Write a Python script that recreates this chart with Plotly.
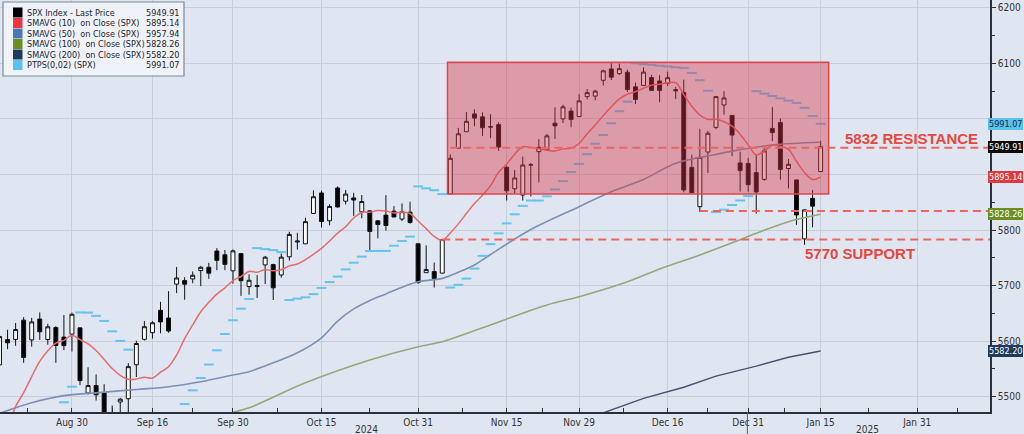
import numpy as np
import plotly.graph_objects as go

# ---------------- data ----------------
dates = ["2024-08-19","2024-08-20","2024-08-21","2024-08-22","2024-08-23","2024-08-26","2024-08-27","2024-08-28","2024-08-29","2024-08-30",
"2024-09-03","2024-09-04","2024-09-05","2024-09-06","2024-09-09","2024-09-10","2024-09-11","2024-09-12","2024-09-13","2024-09-16",
"2024-09-17","2024-09-18","2024-09-19","2024-09-20","2024-09-23","2024-09-24","2024-09-25","2024-09-26","2024-09-27","2024-09-30",
"2024-10-01","2024-10-02","2024-10-03","2024-10-04","2024-10-07","2024-10-08","2024-10-09","2024-10-10","2024-10-11","2024-10-14",
"2024-10-15","2024-10-16","2024-10-17","2024-10-18","2024-10-21","2024-10-22","2024-10-23","2024-10-24","2024-10-25","2024-10-28",
"2024-10-29","2024-10-30","2024-10-31","2024-11-01","2024-11-04","2024-11-05","2024-11-06","2024-11-07","2024-11-08","2024-11-11",
"2024-11-12","2024-11-13","2024-11-14","2024-11-15","2024-11-18","2024-11-19","2024-11-20","2024-11-21","2024-11-22","2024-11-25",
"2024-11-26","2024-11-27","2024-11-29","2024-12-02","2024-12-03","2024-12-04","2024-12-05","2024-12-06","2024-12-09","2024-12-10",
"2024-12-11","2024-12-12","2024-12-13","2024-12-16","2024-12-17","2024-12-18","2024-12-19","2024-12-20","2024-12-23","2024-12-24",
"2024-12-26","2024-12-27","2024-12-30","2024-12-31","2025-01-02","2025-01-03","2025-01-06","2025-01-07","2025-01-08","2025-01-10",
"2025-01-13","2025-01-14","2025-01-15"]

open_ = [5557.2, 5602.9, 5603.1, 5637.8, 5602.2, 5639.7, 5602.9, 5624.5, 5607.3, 5612.7,
5623.9, 5506.7, 5520.1, 5507.3, 5442.1, 5490.5, 5496.4, 5557.5, 5603.3, 5615.2,
5655.5, 5641.7, 5702.6, 5709.0, 5711.9, 5727.0, 5733.0, 5762.2, 5755.4, 5726.5,
5757.7, 5698.2, 5698.2, 5737.2, 5737.8, 5719.1, 5751.8, 5778.4, 5775.1, 5829.8,
5866.7, 5816.6, 5875.6, 5851.9, 5857.8, 5832.7, 5834.5, 5816.6, 5826.8, 5833.9,
5819.7, 5832.1, 5775.3, 5723.2, 5725.2, 5722.4, 5864.9, 5947.2, 5976.8, 6008.9,
6003.6, 5985.8, 5989.6, 5912.8, 5874.2, 5863.0, 5917.2, 5941.0, 5944.4, 5992.3,
6000.0, 6014.1, 6004.0, 6040.1, 6041.0, 6069.4, 6089.8, 6081.4, 6083.9, 6057.6,
6060.2, 6074.3, 6068.2, 6063.8, 6052.6, 6047.6, 5912.7, 5842.0, 5940.3, 5984.7,
6025.0, 6006.2, 5920.7, 5919.7, 5903.3, 5891.1, 5982.8, 5993.3, 5910.7, 5890.2,
5784.0, 5857.0, 5905.2]

high = [5608.3, 5620.5, 5632.7, 5643.2, 5641.8, 5651.6, 5631.2, 5627.0, 5647.0, 5651.4,
5623.9, 5553.0, 5540.1, 5522.5, 5484.2, 5497.9, 5560.4, 5600.7, 5636.3, 5636.0,
5670.8, 5690.0, 5733.6, 5715.1, 5725.4, 5735.3, 5741.0, 5767.4, 5764.0, 5765.1,
5757.7, 5720.3, 5718.8, 5753.3, 5739.4, 5757.6, 5796.8, 5795.0, 5822.1, 5871.4,
5870.9, 5846.4, 5878.5, 5872.2, 5866.9, 5863.0, 5834.9, 5817.8, 5862.8, 5842.9,
5847.7, 5850.9, 5775.3, 5772.3, 5741.4, 5783.4, 5936.1, 5983.8, 6012.5, 6017.3,
6011.8, 6008.2, 5993.9, 5915.8, 5908.1, 5932.0, 5920.7, 5963.4, 5972.9, 6020.8,
6025.4, 6020.2, 6044.2, 6053.6, 6052.2, 6088.4, 6100.0, 6099.5, 6088.5, 6065.4,
6092.6, 6079.2, 6078.6, 6085.2, 6057.7, 6070.7, 5935.5, 5982.1, 5978.3, 6040.1,
6049.8, 6006.2, 5940.8, 5929.7, 5935.1, 5949.3, 6021.0, 6000.7, 5927.9, 5890.2,
5837.3, 5871.9, 5960.6]

low = [5550.7, 5585.5, 5591.6, 5561.0, 5590.0, 5602.3, 5593.5, 5561.0, 5583.7, 5581.3,
5521.0, 5503.9, 5493.0, 5402.6, 5434.5, 5441.7, 5407.0, 5535.5, 5601.0, 5604.5,
5614.1, 5615.1, 5686.4, 5674.5, 5704.2, 5699.0, 5712.1, 5727.6, 5727.7, 5703.5,
5681.5, 5683.5, 5677.6, 5702.8, 5674.0, 5714.3, 5745.0, 5764.8, 5775.1, 5829.6,
5804.5, 5808.4, 5840.3, 5846.1, 5824.8, 5821.2, 5762.4, 5784.9, 5799.0, 5822.7,
5816.1, 5811.3, 5703.3, 5723.2, 5696.5, 5722.1, 5864.9, 5947.1, 5976.8, 5986.7,
5969.3, 5965.3, 5942.3, 5853.0, 5865.9, 5853.0, 5860.6, 5885.5, 5944.4, 5963.9,
5992.3, 5984.9, 6004.0, 6035.3, 6033.4, 6060.0, 6070.0, 6079.0, 6048.6, 6026.6,
6060.2, 6051.2, 6029.9, 6059.1, 6035.8, 5867.8, 5866.1, 5832.3, 5902.6, 5981.4,
6007.4, 5932.9, 5869.2, 5868.9, 5829.5, 5888.7, 5960.0, 5890.7, 5874.8, 5809.2,
5773.3, 5805.0, 5905.2]

close = [5608.25, 5597.12, 5620.85, 5570.64, 5634.61, 5616.84, 5625.80, 5592.18, 5591.96, 5648.40,
5528.93, 5520.07, 5503.41, 5408.42, 5471.05, 5495.52, 5554.13, 5595.76, 5626.02, 5633.09,
5634.58, 5618.26, 5713.64, 5702.55, 5718.57, 5732.93, 5722.26, 5745.37, 5738.17, 5762.48,
5708.75, 5709.54, 5699.94, 5751.07, 5695.94, 5751.13, 5792.04, 5780.05, 5815.03, 5859.85,
5815.26, 5842.47, 5841.47, 5864.67, 5853.98, 5851.20, 5797.42, 5809.86, 5808.12, 5823.52,
5832.92, 5813.67, 5705.45, 5728.80, 5712.69, 5782.76, 5929.04, 5973.10, 5995.54, 6001.35,
5983.99, 5985.38, 5949.17, 5870.62, 5893.62, 5916.98, 5917.11, 5948.71, 5969.34, 5987.37,
6021.63, 5998.74, 6032.38, 6047.15, 6049.88, 6086.49, 6075.11, 6090.27, 6052.85, 6034.91,
6084.19, 6051.25, 6051.09, 6074.08, 6050.61, 5872.16, 5867.08, 5930.85, 5974.07, 6040.04,
6037.59, 5970.84, 5906.94, 5881.63, 5868.55, 5942.47, 5975.38, 5909.03, 5918.25, 5827.04,
5836.22, 5842.91, 5949.91]

sma10 = [5404.3, 5440.0, 5482.1, 5507.3, 5536.3, 5563.5, 5582.7, 5596.4, 5601.3, 5610.7,
5602.7, 5595.0, 5583.3, 5567.1, 5550.7, 5538.6, 5531.4, 5531.8, 5535.2, 5533.6,
5544.2, 5554.0, 5575.0, 5604.5, 5629.2, 5653.0, 5669.8, 5684.7, 5695.9, 5708.9,
5716.3, 5725.4, 5724.1, 5728.9, 5726.6, 5728.5, 5735.4, 5738.9, 5746.6, 5756.3,
5767.0, 5780.3, 5794.4, 5805.8, 5821.6, 5831.6, 5832.1, 5835.1, 5834.4, 5830.8,
5832.6, 5829.7, 5816.1, 5802.5, 5788.4, 5781.5, 5794.7, 5811.0, 5829.7, 5847.5,
5862.6, 5879.8, 5904.2, 5918.4, 5936.5, 5949.9, 5948.7, 5946.2, 5943.6, 5942.2,
5946.0, 5947.3, 5955.7, 5973.3, 5988.9, 6005.9, 6021.7, 6035.8, 6044.2, 6048.9,
6055.2, 6060.4, 6062.3, 6065.0, 6065.1, 6043.7, 6022.8, 6006.9, 5999.0, 5999.5,
5994.9, 5986.8, 5972.4, 5953.2, 5935.0, 5942.0, 5952.8, 5950.7, 5945.1, 5923.8,
5903.6, 5890.8, 5895.1]

sma50_dates = ["2024-08-19","2024-08-23","2024-08-29","2024-09-05","2024-09-12","2024-09-18","2024-09-24","2024-09-30",
"2024-10-02","2024-10-07","2024-10-10","2024-10-15","2024-10-17","2024-10-21","2024-10-23","2024-10-25","2024-10-29",
"2024-10-31","2024-11-05","2024-11-07","2024-11-11","2024-11-13","2024-11-20","2024-11-29","2024-12-05","2024-12-11",
"2024-12-17","2024-12-24","2024-12-27","2025-01-06","2025-01-15"]
sma50 = [5470, 5489, 5502, 5507, 5513, 5518, 5527, 5539,
5545, 5561, 5579, 5606, 5636, 5658, 5673, 5685, 5697,
5707, 5713, 5724, 5737, 5756, 5801, 5842, 5869, 5891,
5920, 5936, 5942, 5953, 5957.94]

sma100_dates = ["2024-09-30","2024-10-02","2024-10-11","2024-10-23","2024-10-31","2024-11-05","2024-11-12","2024-11-22",
"2024-11-29","2024-12-09","2024-12-13","2024-12-20","2024-12-27","2025-01-02","2025-01-08","2025-01-15"]
sma100 = [5472, 5480, 5525, 5566, 5590, 5599, 5624, 5665, 5680, 5707, 5730, 5755, 5777, 5794, 5815, 5828.26]

sma200_dates = ["2024-12-04","2024-12-11","2024-12-18","2024-12-24","2025-01-02","2025-01-08","2025-01-15"]
sma200 = [5471, 5497, 5517, 5537, 5555, 5571, 5582.20]

sar = [None, None, None, None, None, None, None, None,
5490, 5518, 5651.6, 5651.4, 5645.5, 5636.4, 5617.7, 5600.5, 5584.7, 5402.6,
5406.6, 5415.8, 5424.6, 5439.4, 5459.4, 5486.8, 5511.5, 5533.7, 5557.9, 5583.5,
5612.9, 5637.6, 5658.4, 5675.8, 5767.4, 5765.6, 5763.8, 5760.2, 5674.0, 5676.5,
5678.9, 5684.6, 5695.8, 5706.3, 5716.2, 5729.2, 5741.1, 5752.1, 5762.2, 5762.4,
5762.4, 5771.7, 5780.2, 5788.1, 5878.5, 5875.0, 5871.6, 5864.6, 5696.5, 5701.3,
5712.6, 5730.6, 5753.5, 5774.6, 5794.0, 5811.9, 5828.3, 5843.4, 5853.0, 5853.0,
5860.6, 5873.1, 5887.9, 5904.4, 5918.9, 5936.4, 5955.2, 5970.9, 5992.1, 6013.7,
6031.0, 6100.0, 6098.5, 6097.1, 6095.7, 6094.3, 6092.9, 6091.6, 6082.6, 6069.6,
6050.6, 5832.3, 5836.5, 5845.0, 5853.2, 5861.1, 6049.8, 6045.4, 6041.1, 6036.9,
6032.8, 6028.7, 6019.9, 6005.1, 5991.1]

tick_dates = ["2024-08-30","2024-09-16","2024-09-30","2024-10-15","2024-10-31","2024-11-15",
              "2024-11-29","2024-12-16","2024-12-31","2025-01-15","2025-01-31"]
tick_labels = ["Aug 30","Sep 16","Sep 30","Oct 15","Oct 31","Nov 15","Nov 29","Dec 16","Dec 31","Jan 15","Jan 31"]

y_tickvals = [5500, 5600, 5700, 5800, 5900, 6000, 6100, 6200]
y_ticktext = ["5500", "5600", "5700", "5800", "", "", "6100", "6200"]   # 5900/6000 hidden behind value tags

legend_names = ["SPX Index - Last Price", "SMAVG (10)  on Close (SPX)", "SMAVG (50)  on Close (SPX)",
                "SMAVG (100)  on Close (SPX)", "SMAVG (200)  on Close (SPX)", "PTPS(0,02) (SPX)"]
legend_values = ["5949.91", "5895.14", "5957.94", "5828.26", "5582.20", "5991.07"]

box_dates = ["2024-11-06", "2025-01-15"]   # consolidation box
box_prices = [5865, 6102]
resistance_level = 5948
mid_level = 5834
support_level = 5783
resistance_start = "2024-11-06"
mid_start = "2024-12-20"
support_start = "2024-11-05"

# ---------------- helpers ----------------
pos = {d: i for i, d in enumerate(dates)}
last_day = np.datetime64(dates[-1])


def xpos(d):
    if d in pos:
        return pos[d]
    return len(dates) - 1 + int(np.busday_count(last_day + 1, np.datetime64(d) + 1))


idx = [pos[d] for d in dates]

BG = "#dfe6f1"
GRID = "#c6cedb"
FONT = "Liberation Sans Narrow, Arial Narrow, DejaVu Sans Condensed, Liberation Sans, sans-serif"

fig = go.Figure()

fig.add_trace(go.Scatter(x=[xpos(d) for d in sma200_dates], y=sma200, mode="lines",
                         line=dict(color="#47536c", width=1.4), showlegend=False, hoverinfo="skip"))
fig.add_trace(go.Scatter(x=[xpos(d) for d in sma100_dates], y=sma100, mode="lines",
                         line=dict(color="#94a87a", width=1.6, shape="spline"), showlegend=False, hoverinfo="skip"))
fig.add_trace(go.Scatter(x=[xpos(d) for d in sma50_dates], y=sma50, mode="lines",
                         line=dict(color="#7d90b4", width=1.6, shape="spline"), showlegend=False, hoverinfo="skip"))
fig.add_trace(go.Scatter(x=idx, y=sar, mode="markers",
                         marker=dict(symbol="line-ew", size=7, line=dict(color="#64c3ef", width=2)),
                         showlegend=False, hoverinfo="skip"))
fig.add_trace(go.Scatter(x=idx, y=sma10, mode="lines",
                         line=dict(color="#e86a6a", width=1.5, shape="spline"), showlegend=False, hoverinfo="skip"))
fig.add_trace(go.Candlestick(x=idx, open=open_, high=high, low=low, close=close,
                             increasing=dict(line=dict(color="#111111", width=1), fillcolor="#fbfbfb"),
                             decreasing=dict(line=dict(color="#111111", width=1), fillcolor="#000000"),
                             whiskerwidth=0, showlegend=False))

# plot area: 990 x 412 px
PW, PH = 990.0, 412.0


def px(x):
    return x / PW


def py(y):
    return 1 - y / PH


shapes = []
# consolidation box
shapes.append(dict(type="rect", xref="x", yref="y", x0=pos[box_dates[0]] - 0.35, x1=pos[box_dates[1]] + 1.0,
                   y0=box_prices[0], y1=box_prices[1], fillcolor="rgba(214,52,68,0.42)",
                   line=dict(color="#e2454f", width=1.5), layer="above"))
dash_line = dict(color="#ec6660", width=2, dash="8px,5px")
for start, lvl in [(resistance_start, resistance_level), (mid_start, mid_level), (support_start, support_level)]:
    shapes.append(dict(type="line", xref="x", yref="y", x0=pos[start], x1=123.1, y0=lvl, y1=lvl,
                       line=dash_line, layer="above"))
# year separator
shapes.append(dict(type="line", xref="x", yref="paper", x0=92.9, x1=92.9, y0=0, y1=-0.06,
                   line=dict(color="#555a66", width=1)))
# legend box
shapes.append(dict(type="rect", xref="paper", yref="paper", x0=px(3), x1=px(184), y0=py(2), y1=py(76),
                   fillcolor="rgba(240,243,248,0.92)", line=dict(color="#7e8797", width=1.2), layer="above"))
leg_colors = ["#000000", "#e8383d", "#4a76b8", "#6b8e23", "#1e3a5f", "#5bc0f0"]
annotations = []
for k, (name, val, col) in enumerate(zip(legend_names, legend_values, leg_colors)):
    yc = 12.5 + 10.5 * k
    shapes.append(dict(type="rect", xref="paper", yref="paper", x0=px(13), x1=px(22.5),
                       y0=py(yc - 5), y1=py(yc + 5), fillcolor=col, line=dict(width=0), layer="above"))
    annotations.append(dict(xref="paper", yref="paper", x=px(25), y=py(yc), text=name, showarrow=False,
                            xanchor="left", yanchor="middle", font=dict(family=FONT, size=9, color="#1d2433")))
    annotations.append(dict(xref="paper", yref="paper", x=px(181), y=py(yc), text=val, showarrow=False,
                            xanchor="right", yanchor="middle", font=dict(family=FONT, size=9, color="#1d2433")))

# text labels
annotations.append(dict(xref="paper", yref="y", x=px(911), y=5965, text="<b>5832 RESISTANCE</b>", showarrow=False,
                        xanchor="center", yanchor="middle", font=dict(family="Liberation Sans, Arial, sans-serif", size=15, color="#e8473d")))
annotations.append(dict(xref="paper", yref="y", x=px(860), y=5758, text="<b>5770 SUPPORT</b>", showarrow=False,
                        xanchor="center", yanchor="middle", font=dict(family="Liberation Sans, Arial, sans-serif", size=15, color="#e8473d")))

# right-axis value tags (right-aligned to the page edge so they stay whole)
tags = [(5991.07, "5991.07", "#5bc0eb", "#0e2a4a"), (5949.91, "5949.91", "#0b0b0b", "#ffffff"),
        (5895.14, "5895.14", "#e0383e", "#ffffff"), (5828.26, "5828.26", "#6b8e23", "#ffffff"),
        (5582.20, "5582.20", "#1f3a5f", "#ffffff")]
for yv, txt, bg, fc in tags:
    annotations.append(dict(xref="paper", yref="y", x=1023.0 / PW, y=yv, text=txt, showarrow=False, xanchor="right",
                            yanchor="middle", bgcolor=bg, borderpad=1, bordercolor=bg, borderwidth=0,
                            font=dict(family=FONT, size=9, color=fc)))

# year labels
annotations.append(dict(xref="x", yref="paper", x=45.6, y=py(429), text="2024", showarrow=False,
                        xanchor="center", yanchor="middle", font=dict(family=FONT, size=10, color="#333")))
annotations.append(dict(xref="x", yref="paper", x=107.8, y=py(429), text="2025", showarrow=False,
                        xanchor="center", yanchor="middle", font=dict(family=FONT, size=10, color="#333")))

tickvals = [xpos(d) for d in tick_dates]
minor_vals = [tickvals[0] - 5.5] + [(a + b) / 2 for a, b in zip(tickvals[:-1], tickvals[1:])] + [tickvals[-1] + 5]

fig.update_layout(
    width=1024, height=434,
    margin=dict(l=0, r=34, t=0, b=22),
    paper_bgcolor=BG, plot_bgcolor=BG,
    shapes=shapes, annotations=annotations,
    showlegend=False,
    xaxis=dict(range=[0.062, 123.04], tickmode="array", tickvals=tickvals, ticktext=tick_labels,
               showgrid=True, gridcolor=GRID, gridwidth=1, zeroline=False,
               showline=True, linecolor="#2b2f38", linewidth=1.5,
               ticks="inside", ticklen=4, tickcolor="#2b2f38",
               tickfont=dict(family=FONT, size=10, color="#333"),
               minor=dict(tickmode="array", tickvals=minor_vals, ticks="inside", ticklen=4,
                          tickcolor="#2b2f38", showgrid=False),
               rangeslider=dict(visible=False), fixedrange=True),
    yaxis=dict(side="right", range=[5472.5, 6213.9], tickmode="array",
               tickvals=y_tickvals, ticktext=y_ticktext,
               showgrid=True, gridcolor=GRID, gridwidth=1, zeroline=False,
               showline=True, linecolor="#2b2f38", linewidth=1.5,
               ticks="outside", ticklen=4, tickcolor="#2b2f38",
               tickfont=dict(family=FONT, size=10, color="#333"),
               minor=dict(dtick=50, tick0=5450, ticks="outside", ticklen=3, tickcolor="#2b2f38", showgrid=False),
               fixedrange=True),
)

fig.write_html("out.html", config={"displayModeBar": False},
               post_script="document.body.style.margin='0';document.body.style.overflow='hidden';")
